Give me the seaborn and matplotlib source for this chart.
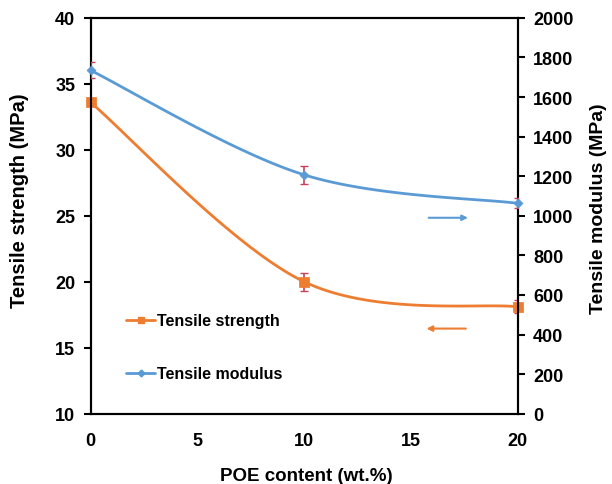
import numpy as np
import pandas as pd
import seaborn as sns
import matplotlib.pyplot as plt

# data
poe = [0, 10, 20]
strength = [33.6, 20.0, 18.1]
strength_err = [0.3, 0.7, 0.5]
modulus = [1735, 1207, 1063]
modulus_err = [40, 45, 25]

sns.set_style('white')
plt.rcParams['font.family'] = ['Liberation Sans', 'DejaVu Sans']
plt.rcParams['font.weight'] = 'bold'
plt.rcParams['text.color'] = 'black'
plt.rcParams['axes.labelcolor'] = 'black'

orange = '#ED7D31'
blue = '#5B9BD5'
errc = '#C8405A'


def excel_smooth(x, y, n=40):
    # bezier smoothing like Excel's "smoothed line"
    x = np.asarray(x, float)
    y = np.asarray(y, float)
    px = np.concatenate([[x[0]], x, [x[-1]]])
    py = np.concatenate([[y[0]], y, [y[-1]]])
    xs, ys = [], []
    t = np.linspace(0, 1, n)
    for i in range(1, len(px) - 2):
        p0 = np.array([px[i], py[i]])
        p3 = np.array([px[i + 1], py[i + 1]])
        c1 = p0 + (np.array([px[i + 1], py[i + 1]]) - np.array([px[i - 1], py[i - 1]])) / 6
        c2 = p3 - (np.array([px[i + 2], py[i + 2]]) - np.array([px[i], py[i]])) / 6
        b = ((1 - t) ** 3)[:, None] * p0 + (3 * (1 - t) ** 2 * t)[:, None] * c1 \
            + (3 * (1 - t) * t ** 2)[:, None] * c2 + (t ** 3)[:, None] * p3
        xs.extend(b[:, 0])
        ys.extend(b[:, 1])
    return np.array(xs), np.array(ys)


df = pd.DataFrame({'poe': poe, 'strength': strength, 'modulus': modulus})

fig = plt.figure(figsize=(6.12, 4.85), dpi=100)
ax = fig.add_axes([0.148, 0.145, 0.698, 0.816])
ax2 = ax.twinx()

# tensile strength (left axis)
sx, sy = excel_smooth(poe, strength)
ax.plot(sx, sy, color=orange, lw=2, zorder=3)
ax.errorbar(poe, strength, yerr=strength_err, fmt='none', ecolor=errc,
            elinewidth=1.2, capsize=3, zorder=4)
sns.scatterplot(data=df, x='poe', y='strength', ax=ax, color=orange, marker='s',
                s=45, edgecolor=orange, zorder=5, legend=False, clip_on=False)

# tensile modulus (right axis)
mx, my = excel_smooth(poe, modulus)
ax2.plot(mx, my, color=blue, lw=2, zorder=3)
ax2.errorbar(poe, modulus, yerr=modulus_err, fmt='none', ecolor=errc,
             elinewidth=1.2, capsize=3, zorder=4)
sns.scatterplot(data=df, x='poe', y='modulus', ax=ax2, color=blue, marker='D',
                s=22, edgecolor=blue, zorder=5, legend=False, clip_on=False)

ax.set_xlim(0, 20)
ax.set_ylim(10, 40)
ax2.set_ylim(0, 2000)
ax.set_xticks([0, 5, 10, 15, 20])
ax.set_yticks(range(10, 41, 5))
ax2.set_yticks(range(0, 2001, 200))

for a in (ax, ax2):
    for s in a.spines.values():
        s.set_color('black')
        s.set_linewidth(1.5)
    a.tick_params(direction='out', length=5, width=1.5, colors='black',
                  labelsize=13)
    for lab in a.get_xticklabels() + a.get_yticklabels():
        lab.set_fontweight('bold')
ax.tick_params(axis='x', pad=8)
ax.tick_params(axis='y', left=True, pad=6)
ax2.tick_params(axis='y', right=True, pad=6)

ax.set_xlabel('POE content (wt.%)', fontsize=13.5, fontweight='bold')
ax.set_ylabel('Tensile strength (MPa)', fontsize=14.5, fontweight='bold')
ax2.set_ylabel('Tensile modulus (MPa)', fontsize=14, fontweight='bold')
ax.xaxis.set_label_coords(0.505, -0.135)
ax.yaxis.set_label_coords(-0.145, 0.54)
ax2.yaxis.set_label_coords(1.17, 0.52)

# legend
h1 = plt.Line2D([], [], color=orange, marker='s', markersize=5, lw=2)
h2 = plt.Line2D([], [], color=blue, marker='D', markersize=3.5, lw=2)
leg = ax.legend([h1, h2], ['Tensile strength', 'Tensile modulus'],
                loc='lower left', bbox_to_anchor=(0.05, 0.045), frameon=False,
                labelspacing=2.4, handlelength=1.8,
                handletextpad=0.1, prop={'weight': 'bold', 'size': 11.5})

# arrows pointing to the axes
ax.annotate('', xy=(0.89, 0.495), xytext=(0.785, 0.495), xycoords='axes fraction',
            arrowprops=dict(arrowstyle='-|>', color=blue, lw=1.5, mutation_scale=8))
ax.annotate('', xy=(0.78, 0.215), xytext=(0.885, 0.215), xycoords='axes fraction',
            arrowprops=dict(arrowstyle='-|>', color=orange, lw=1.5, mutation_scale=8))

plt.savefig('out.png', dpi=100)
